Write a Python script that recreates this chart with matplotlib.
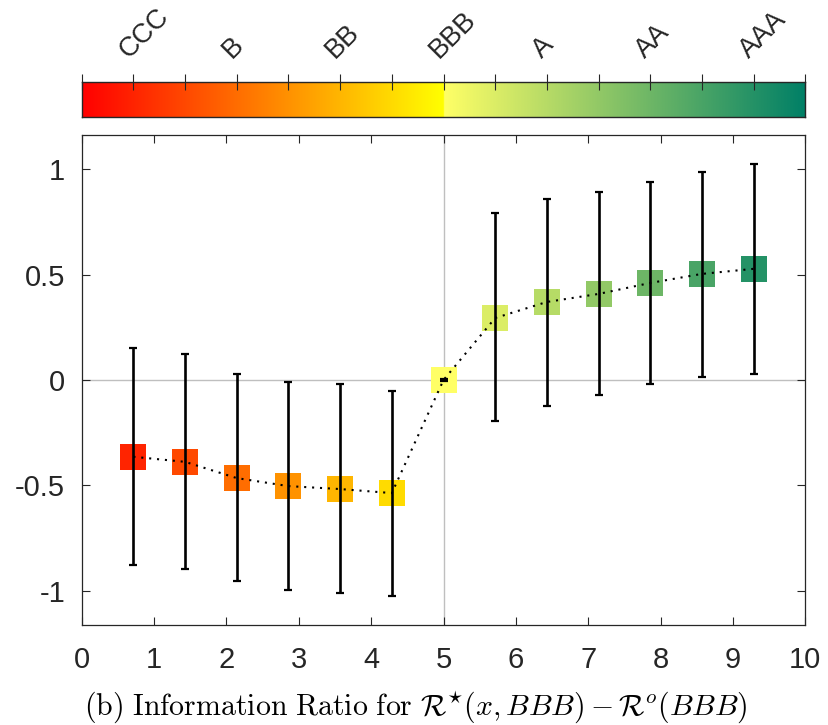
import numpy as np
import matplotlib
matplotlib.use("Agg")
import matplotlib.pyplot as plt
from matplotlib.colors import ListedColormap

plt.rcParams['font.family'] = ['Liberation Sans', 'DejaVu Sans']
plt.rcParams['mathtext.fontset'] = 'cm'

# ---- data ----
ratings = ['CCC', 'B', 'BB', 'BBB', 'A', 'AA', 'AAA']
rating_ticks = [1, 3, 5, 7, 9, 11, 13]          # colorbar tick index of each rating
n_steps = 14                                      # colorbar divisions over 0..10
step_index = list(range(1, 14))                   # 13 grades
means = [-0.364, -0.388, -0.465, -0.503, -0.517, -0.536, 0.0,
         0.294, 0.370, 0.408, 0.460, 0.503, 0.527]
upper = [0.154, 0.122, 0.027, -0.008, -0.020, -0.054, 0.006,
         0.790, 0.859, 0.891, 0.940, 0.988, 1.022]
lower = [-0.879, -0.897, -0.955, -0.995, -1.012, -1.022, -0.006,
         -0.196, -0.122, -0.073, -0.018, 0.016, 0.030]
xticks = list(range(0, 11))
yticks = [-1, -0.5, 0, 0.5, 1]
ytick_labels = ['-1', '-0.5', '0', '0.5', '1']
xlabel = (r'$\mathrm{(b)\ Information\ Ratio\ for}\ '
          r'\mathcal{R}^{\star}(x,BBB)-\mathcal{R}^{o}(BBB)$')

# ---- colormap: autumn (red->yellow) then reversed summer ----
N = 256
cols = np.vstack([plt.get_cmap('autumn')(np.linspace(0, 1, N)),
                  plt.get_cmap('summer_r')(np.linspace(0, 1, N))])
cmap = ListedColormap(cols)

x = np.array(step_index) * 10.0 / n_steps
means = np.array(means)
yerr = np.vstack([means - np.array(lower), np.array(upper) - means])
colors = [cmap(min(v / 10.0, 0.9999)) for v in x]

W, H = 829, 725
fig = plt.figure(figsize=(W / 100, H / 100), dpi=100)
dark = (0.15, 0.15, 0.15)

def fr(l, t, r, b):
    return [l / W, 1 - b / H, (r - l) / W, (b - t) / H]

ax = fig.add_axes(fr(81.7, 135.3, 805.3, 624.7))
ax.set_xlim(0, 10)
ax.set_ylim(-1.16, 1.16)
ax.axvline(5, color=(0.75, 0.75, 0.75), lw=1.0, zorder=1)
ax.axhline(0, color=(0.75, 0.75, 0.75), lw=1.0, zorder=1)

for xi, mi, c in zip(x, means, colors):
    ax.plot([xi], [mi], marker='s', ms=19.2, mew=0, color=c, zorder=2, ls='none')
ax.errorbar(x, means, yerr=yerr, fmt='none', ecolor='black', elinewidth=1.9,
            capsize=2.6, capthick=1.6, zorder=3)
ax.plot(x, means, color='black', lw=1.5, ls=(0, (1, 2.8)), zorder=4)

ax.set_xticks(xticks)
ax.set_yticks(yticks)
ax.set_yticklabels(ytick_labels)
ax.tick_params(direction='in', length=5.8, width=0.8, colors=dark,
               labelsize=21, top=True, right=True)
ax.tick_params(axis='x', pad=15.5)
ax.tick_params(axis='y', pad=12)
for s in ax.spines.values():
    s.set_color(dark)
    s.set_linewidth(0.9)

fig.text(416 / W, 1 - 715 / H, xlabel, fontsize=21.5, ha='center', va='baseline',
         color='black')

# ---- colorbar ----
cax = fig.add_axes(fr(81.7, 81.7, 805.3, 116.7))
grad = np.linspace(0, 1, 2 * N).reshape(1, -1)
cax.imshow(grad, aspect='auto', cmap=cmap, extent=[0, 10, 0, 1],
           interpolation='bilinear')
cax.set_xlim(0, 10)
cax.set_ylim(0, 1)
cax.set_yticks([])
cbt = np.arange(0, n_steps + 1) * 10.0 / n_steps
cax.set_xticks(cbt)
cax.set_xticklabels([])
cax.tick_params(axis='x', direction='inout', length=11, width=0.8,
                colors=dark, bottom=False, top=True)
for s in cax.spines.values():
    s.set_color(dark)
    s.set_linewidth(1.0)
for lab, ti in zip(ratings, rating_ticks):
    cax.annotate(lab, xy=(ti * 10.0 / n_steps, 1), xycoords=('data', 'axes fraction'),
                 xytext=(-3.6, 16.5), textcoords='offset points',
                 rotation=45, rotation_mode='anchor', ha='left', va='baseline',
                 fontsize=19.5, color=dark)

fig.savefig('out.png', dpi=100)
